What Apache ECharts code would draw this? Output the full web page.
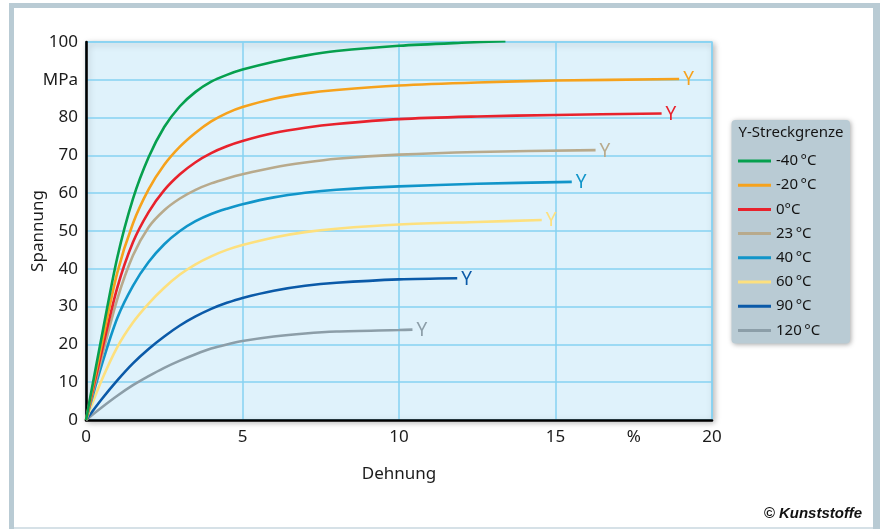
<!DOCTYPE html>
<html><head><meta charset="utf-8">
<script src="https://cdn.jsdelivr.net/npm/echarts@6/dist/echarts.min.js"></script>
<style>html,body{margin:0;padding:0;background:#fff}#c{width:884px;height:529px}</style>
</head><body><div id="c"></div>
<script>
// Legend / series names
const seriesNames = ['-40\u2009°C', '-20\u2009°C', '0°C', '23\u2009°C', '40\u2009°C', '60\u2009°C', '90\u2009°C', '120\u2009°C'];
// Curve data: [Dehnung %, Spannung MPa]
const curveM40 = [[0,0],[0.5,22],[1,43],[1.5,58.5],[2,69.5],[2.5,77.5],[3,83],[3.5,86.8],[4,89.5],[4.5,91.3],[5,92.7],[6,94.8],[7,96.4],[8,97.6],[10,99],[12,99.8],[13.4,100.2]];
const curveM20 = [[0,0],[0.5,20],[1,39],[1.5,52],[2,61],[2.5,67.5],[3,72.3],[3.5,76],[4,79],[4.5,81.2],[5,82.8],[6,85],[7,86.4],[8,87.3],[10,88.5],[12.5,89.3],[15,89.8],[18.95,90.2]];
const curve0 = [[0,0],[0.5,18],[1,35],[1.5,47],[2,55],[2.5,60.8],[3,65],[3.5,68.2],[4,70.6],[4.5,72.4],[5,73.8],[6,75.9],[7,77.3],[8,78.3],[10,79.6],[12.5,80.3],[15,80.7],[18.39,81.1]];
const curve23 = [[0,0],[0.5,16.5],[1,32],[1.5,43.5],[2,51],[2.5,55.5],[3,58.6],[3.5,60.9],[4,62.6],[4.5,63.9],[5,65],[6,66.8],[7,68.1],[8,69.1],[10,70.2],[12.5,70.9],[16.28,71.4]];
const curve40 = [[0,0],[0.5,14.5],[1,27],[1.5,35.5],[2,41.8],[2.5,46.5],[3,50],[3.5,52.6],[4,54.5],[4.5,55.9],[5,57.1],[6,58.9],[7,60.1],[8,60.9],[10,61.8],[12.5,62.5],[15.52,63]];
const curve60 = [[0,0],[0.5,10.5],[1,19.3],[1.5,25.8],[2,30.8],[2.5,35],[3,38.5],[3.5,41.2],[4,43.3],[4.5,45],[5,46.3],[6,48.3],[7,49.7],[8,50.6],[10,51.7],[12.5,52.4],[14.56,52.9]];
const curve90 = [[0,0],[0.5,5.5],[1,10.5],[1.5,15],[2,18.8],[2.5,22.1],[3,25],[3.5,27.4],[4,29.4],[4.5,31],[5,32.3],[6,34.2],[7,35.5],[8,36.3],[10,37.2],[11.86,37.5]];
const curve120 = [[0,0],[0.5,3.3],[1,6.4],[1.5,9.2],[2,11.6],[2.5,13.8],[3,15.7],[3.5,17.4],[4,18.9],[4.5,20],[5,20.9],[6,22.1],[7,22.9],[8,23.4],[10,23.8],[10.43,23.9]];
const curves = [curveM40, curveM20, curve0, curve23, curve40, curve60, curve90, curve120];
// Tick labels
const xTickValues = [0, 5, 10, 15, 17.5, 20];
const xTickLabels = ['0', '5', '10', '15', '%', '20'];
const yTickLabels = ['0', '10', '20', '30', '40', '50', '60', '70', '80', 'MPa', '100'];
const endMarker = 'Y';

const colors = ['#06a04e', '#f6a21c', '#e8222c', '#b8aa8c', '#1195c9', '#fde07e', '#0b5aa8', '#8c9ea8'];
const FONT = 'Noto Sans';

const series = curves.map((c, i) => {
  const data = c.map((p, j) => {
    if (j === c.length - 1) {
      return {
        value: p,
        label: {
          show: true, formatter: endMarker, position: 'right', distance: 4,
          offset: i === 0 ? [2, 10] : [0, 1],
          color: colors[i], fontSize: 19, fontFamily: FONT
        }
      };
    }
    return p;
  });
  return {
    name: seriesNames[i], type: 'line', data: data,
    smooth: 0.3,
    showSymbol: true, symbol: 'circle', symbolSize: 0,
    color: colors[i],
    lineStyle: { width: 2.6, color: colors[i] },
    label: { show: false },
    emphasis: { disabled: true },
    z: 3 + (8 - i) * 0.01
  };
});

const chart = echarts.init(document.getElementById('c'), null, { renderer: 'canvas' });
chart.setOption({
  animation: false,
  grid: {
    left: 86, top: 42, width: 626, height: 378,
    show: true, backgroundColor: '#dff2fb', borderColor: '#8cd5f3', borderWidth: 1.5,
    shadowBlur: 6, shadowColor: 'rgba(0,0,0,0.28)', shadowOffsetX: 2, shadowOffsetY: 2
  },
  xAxis: {
    type: 'value', min: 0, max: 20, interval: 5,
    name: 'Dehnung', nameLocation: 'middle', nameGap: 46, nameMoveOverlap: false,
    nameTextStyle: { fontFamily: FONT, fontSize: 17, color: '#1b1b1b' },
    axisLine: { show: true, onZero: false, lineStyle: { color: '#000', width: 2.6 } },
    axisTick: { show: false },
    axisLabel: {
      customValues: xTickValues, margin: 9,
      fontFamily: FONT, fontSize: 17, color: '#1b1b1b',
      formatter: v => { const k = xTickValues.indexOf(v); return k >= 0 ? xTickLabels[k] : ''; }
    },
    splitLine: { show: true, lineStyle: { color: '#86d2f2', width: 1.5 } }
  },
  yAxis: {
    type: 'value', min: 0, max: 100, interval: 10,
    name: 'Spannung', nameLocation: 'middle', nameGap: 39, nameRotate: 90, nameMoveOverlap: false,
    nameTextStyle: { fontFamily: FONT, fontSize: 17, color: '#1b1b1b' },
    axisLine: { show: true, onZero: false, lineStyle: { color: '#000', width: 2.6 } },
    axisTick: { show: false },
    axisLabel: {
      margin: 8, fontFamily: FONT, fontSize: 17, color: '#1b1b1b',
      formatter: v => yTickLabels[Math.round(v / 10)]
    },
    splitLine: { show: true, lineStyle: { color: '#86d2f2', width: 1.5 } }
  },
  legend: {
    orient: 'vertical', left: 731, top: 120, z: 10,
    padding: [33, 8, 5, 7],
    itemWidth: 33, itemHeight: 3, icon: 'rect', itemGap: 8.2, itemTextGap: 11,
    textStyle: { fontFamily: FONT, fontSize: 15, color: '#141414', lineHeight: 16 },
    selectedMode: false,
    data: seriesNames
  },
  graphic: [
    { type: 'rect', z: 1, shape: { x: 9, y: 3, width: 871, height: 5 }, style: { fill: '#b9cbd4' } },
    { type: 'rect', z: 1, shape: { x: 9, y: 3, width: 5, height: 526 }, style: { fill: '#b9cbd4' } },
    { type: 'rect', z: 1, shape: { x: 873, y: 3, width: 7, height: 526 }, style: { fill: '#b9cbd4' } },
    { type: 'rect', z: 1, shape: { x: 14, y: 527, width: 859, height: 2 }, style: { fill: '#d6e1e7' } },
    { type: 'rect', z: 5, shape: { x: 731.5, y: 120, width: 118.5, height: 223.5, r: 4 },
      style: { fill: '#b9cbd4', shadowBlur: 5, shadowColor: 'rgba(0,0,0,0.35)', shadowOffsetX: 1, shadowOffsetY: 1 } },
    { type: 'text', z: 11, x: 791, y: 133, style: { text: 'Y-Streckgrenze', fill: '#141414', font: '15px "Noto Sans"', align: 'center', verticalAlign: 'middle' } },
    { type: 'text', z: 11, x: 862, y: 514, style: { text: '© Kunststoffe', fill: '#111', font: 'italic bold 15px "Liberation Sans"', align: 'right', verticalAlign: 'middle' } }
  ],
  series: series
});
</script>
</body></html>
